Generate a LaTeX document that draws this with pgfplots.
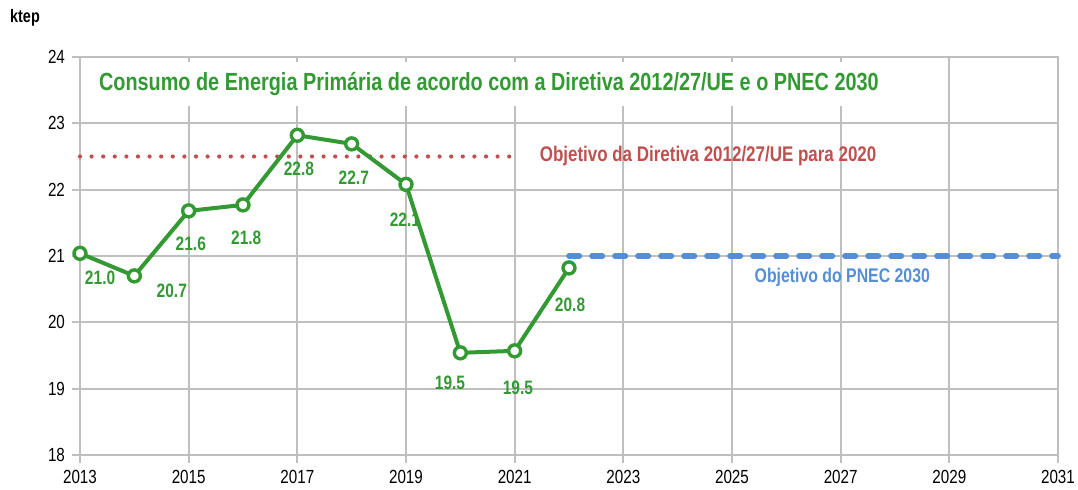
\documentclass[border=0pt]{standalone}
\usepackage{fontspec}
\setmainfont{Liberation Sans}[FakeStretch=0.8]
\usepackage{pgfplots}
\pgfplotsset{compat=1.18}
\definecolor{cgreen}{HTML}{339933}
\definecolor{cred}{HTML}{C0504D}
\definecolor{cblue}{HTML}{558ED5}
\definecolor{cgrid}{HTML}{BFBFBF}
\begin{document}
\begin{tikzpicture}
\begin{axis}[
  at={(0,0)}, anchor=south west,
  scale only axis, width=489pt, height=199pt,
  xmin=2013, xmax=2031, ymin=18, ymax=24,
  xtick={2013,2015,...,2031}, ytick={18,...,24},
  grid=major, grid style={cgrid, line width=1pt},
  axis line style={cgrid, line width=1pt},
  tick style={cgrid, line width=1pt},
  tick align=outside, tick pos=left, major tick length=4pt,
  /pgf/number format/assume math mode=true,
  x tick label style={/pgf/number format/1000 sep={}},
  ticklabel style={font=\fontsize{9.5}{11}\selectfont, text=black},
  clip=false,
]
% title box
\node[fill=white, anchor=west, inner xsep=8pt, inner ysep=5pt,
      font=\bfseries\fontsize{12.4}{14}\selectfont, text=cgreen]
  at (axis cs:2013.05,23.59) {Consumo de Energia Primária de acordo com a Diretiva 2012/27/UE e o PNEC 2030};
% unit label
\node[font=\bfseries\fontsize{9}{11}\selectfont] at ([xshift=-27.5pt, yshift=19.5pt]rel axis cs:0,1) {ktep};
% data labels
\begin{scope}[every node/.style={font=\bfseries\fontsize{9.7}{11}\selectfont, text=cgreen}]
\node at (axis cs:2013.37,20.67) {21.0};
\node at (axis cs:2014.69,20.47) {20.7};
\node at (axis cs:2015.04,21.18) {21.6};
\node at (axis cs:2016.06,21.27) {21.8};
\node at (axis cs:2017.03,22.31) {22.8};
\node at (axis cs:2018.04,22.18) {22.7};
\node at (axis cs:2018.98,21.54) {22.1};
\node at (axis cs:2019.81,19.09) {19.5};
\node at (axis cs:2021.06,19.02) {19.5};
\node at (axis cs:2022.02,20.26) {20.8};
\end{scope}
% targets
\addplot[cred, line width=2.1pt, line cap=round, dash pattern=on 0pt off 5.8pt]
  coordinates {(2013,22.5) (2021,22.5)};
\addplot[cblue, line width=2.8pt, line cap=round, dash pattern=on 5.2pt off 6.3pt]
  coordinates {(2022,21) (2031,21)};
\node[font=\bfseries\fontsize{10.6}{12}\selectfont, text=cred] at (axis cs:2024.56,22.51)
  {Objetivo da Diretiva 2012/27/UE para 2020};
\node[font=\bfseries\fontsize{9.9}{11}\selectfont, text=cblue] at (axis cs:2027.03,20.68)
  {Objetivo do PNEC 2030};
% series
\addplot[cgreen, line width=2pt, mark=*, mark size=3pt,
  mark options={fill=white, draw=cgreen, line width=1.7pt}]
  coordinates {
  (2013,21.04) (2014,20.70) (2015,21.68) (2016,21.77) (2017,22.82)
  (2018,22.69) (2019,22.08) (2020,19.54) (2021,19.57) (2022,20.82)
  };
\end{axis}
\pgfresetboundingbox
\path[use as bounding box] (-40pt,-17.5pt) rectangle (499pt,227.5pt);
\end{tikzpicture}
\end{document}
